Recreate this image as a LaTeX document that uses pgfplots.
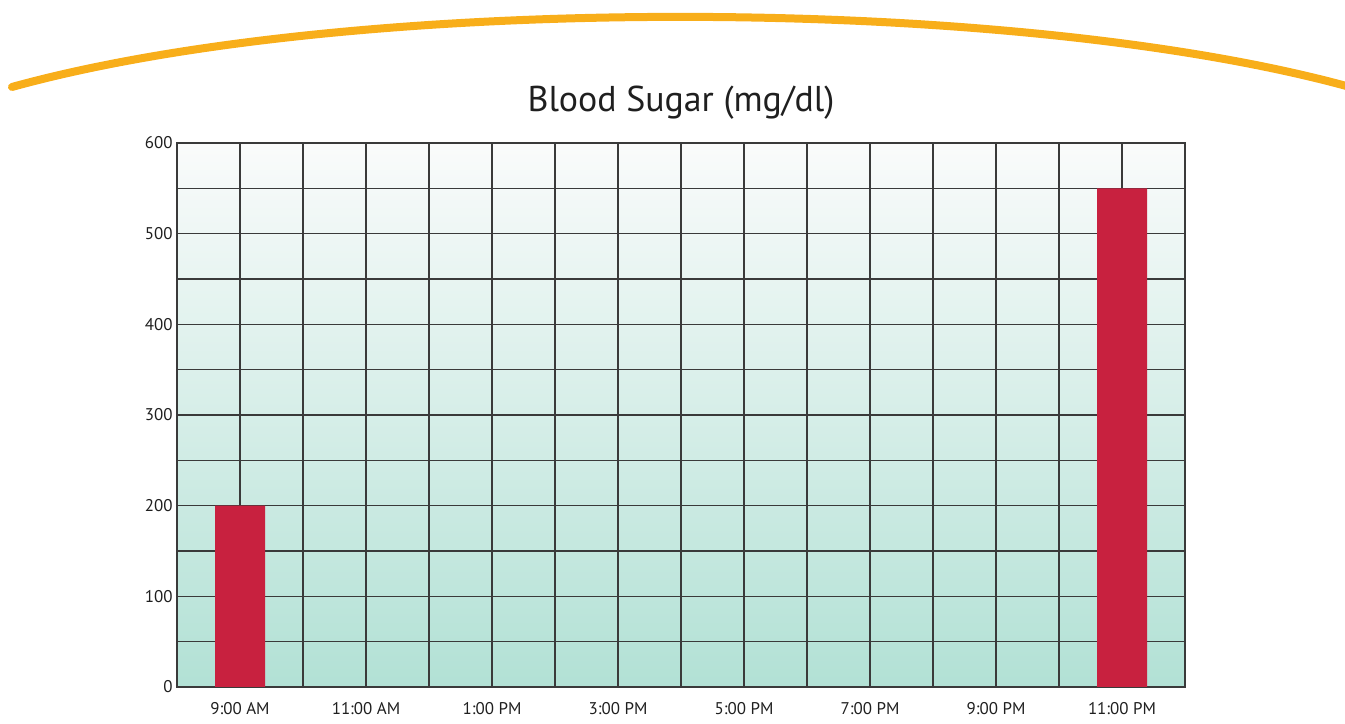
\documentclass[border=0pt]{standalone}
\usepackage{pgfplots}
\pgfplotsset{compat=1.18}
\usepackage{fontspec}
\setmainfont{PT Sans}
\definecolor{barred}{HTML}{C8213F}
\definecolor{arcorange}{HTML}{F8AE1A}
\definecolor{bgtop}{HTML}{FAFBFB}
\definecolor{bgbot}{HTML}{B2E1D5}
\definecolor{gridc}{HTML}{3A3A3A}
\begin{document}
\begin{tikzpicture}[x=1bp,y=1bp]
\useasboundingbox (0,0) rectangle (1345,723);
\begin{scope}
\clip (0,0) rectangle (1345,723);
\draw[arcorange, line width=8bp, line cap=round] (12,636) .. controls (350,729.5) and (1010,729.5) .. (1350,636);
\end{scope}
\node[font=\fontsize{36}{40}\selectfont, text=black!88] at (681,620) {Blood Sugar (mg/dl)};
\begin{axis}[
  scale only axis,
  width=1008bp, height=544bp,
  at={(177bp,36bp)}, anchor=south west,
  xmin=8, xmax=24, ymin=0, ymax=600,
  xtick={9,11,...,23},
  xticklabels={9:00 AM,11:00 AM,1:00 PM,3:00 PM,5:00 PM,7:00 PM,9:00 PM,11:00 PM},
  minor xtick={8,10,...,24},
  ytick={0,100,...,600},
  minor ytick={50,150,...,550},
  grid=both,
  major grid style={gridc, line width=1.3bp},
  minor grid style={gridc, line width=1.3bp},
  axis line style={gridc, line width=1.4bp},
  tick style={draw=none},
  major tick length=0pt, minor tick length=0pt,
  ticklabel style={font=\fontsize{17}{18}\selectfont, text=black!88},
  /pgf/number format/assume math mode=true,
  xticklabel style={yshift=-12bp},
  yticklabel style={xshift=-1bp},
  axis background/.style={top color=bgtop, bottom color=bgbot},
]
\addplot[ybar, bar width=50bp, fill=barred, draw=none] coordinates {(9,200) (23,550)};
\end{axis}
\end{tikzpicture}
\end{document}
